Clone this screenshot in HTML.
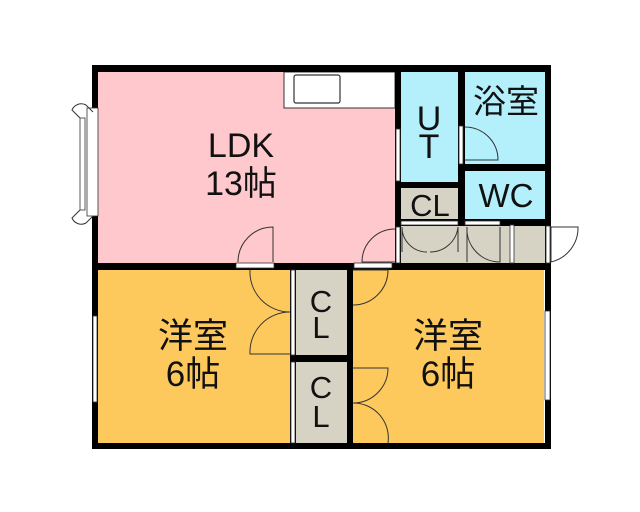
<!DOCTYPE html>
<html><head><meta charset="utf-8"><style>
html,body{margin:0;padding:0;background:#fff;}
svg{display:block}
text{font-family:"Liberation Sans","Noto Sans CJK JP",sans-serif;fill:#111;}
</style></head><body>
<svg width="640" height="512" viewBox="0 0 640 512" xmlns="http://www.w3.org/2000/svg">
<rect x="98" y="71" width="297" height="192" fill="#ffc8cc"/>
<rect x="284" y="72" width="111" height="36" fill="#fff" stroke="#333" stroke-width="1"/>
<rect x="294" y="75" width="46" height="28" fill="#fff" stroke="#333" stroke-width="1.2" rx="2"/>
<rect x="401" y="72" width="57" height="110" fill="#b3f0fb"/>
<rect x="465" y="72" width="80" height="92" fill="#b3f0fb"/>
<rect x="465" y="171" width="80" height="48" fill="#b3f0fb"/>
<rect x="401" y="188" width="57" height="31" fill="#d6d2c4"/>
<rect x="400" y="226" width="145" height="37" fill="#d6d2c4"/>
<rect x="98" y="270" width="192" height="173" fill="#fdc95c"/>
<rect x="353" y="270" width="191" height="173" fill="#fdc95c"/>
<rect x="296" y="270" width="51" height="85" fill="#d6d2c4"/>
<rect x="296" y="362" width="51" height="81" fill="#d6d2c4"/>
<g fill="#000">
<rect x="92" y="65" width="459" height="7"/>
<rect x="92" y="65" width="6" height="384"/>
<rect x="92" y="443" width="459" height="6"/>
<rect x="545" y="65" width="6" height="384"/>
<rect x="92" y="263" width="459" height="7"/>
<rect x="395" y="65" width="6" height="205"/>
<rect x="458" y="65" width="7" height="161"/>
<rect x="458" y="164" width="93" height="7"/>
<rect x="395" y="182" width="70" height="6"/>
<rect x="395" y="219" width="156" height="7"/>
<rect x="290" y="263" width="6" height="186"/>
<rect x="347" y="263" width="6" height="186"/>
<rect x="290" y="355" width="63" height="7"/>
</g>
<g fill="#fff" stroke="#333" stroke-width="0.8">
<rect x="87" y="108" width="11" height="108"/>
<rect x="80" y="118" width="5" height="92"/>
<rect x="236" y="263" width="38" height="5"/>
<rect x="354" y="263" width="38" height="5"/>
<rect x="396" y="129" width="4" height="52"/>
<rect x="459" y="126" width="4" height="38"/>
<rect x="401" y="221" width="57" height="4"/>
<rect x="465" y="221" width="35" height="4"/>
<rect x="396" y="227" width="4" height="36"/>
<rect x="510" y="225" width="4" height="38"/>
<rect x="546" y="226" width="4" height="37"/>
<rect x="291" y="270" width="4" height="85"/>
<rect x="291" y="362" width="4" height="81"/>
<rect x="93" y="316" width="4" height="86"/>
<rect x="545" y="311" width="5" height="89"/>
</g>
<g fill="none" stroke="#333" stroke-width="1">
<path d="M273 262 V227 A35 35 0 0 0 238 262"/>
<path d="M395 262 H362 A33 33 0 0 1 395 229"/>
<path d="M465 127 A33 33 0 0 1 498 160 H465"/>
<path d="M402 252 V227 A25 25 0 0 0 427 252 M458 252 V227 A28 28 0 0 1 430 252"/>
<path d="M467 262 V227 A33 33 0 0 0 500 262 V227"/>
<path d="M551 262 V227 H578 A35 35 0 0 1 551 262"/>
<path d="M250 270 A40 40 0 0 0 290 312 A40 40 0 0 0 250 354 H290"/>
<path d="M353 305 A35 35 0 0 0 388 270 H353"/>
<path d="M353 403 A35 35 0 0 0 388 368 H353 M353 403 A35 35 0 0 1 388 443"/>
<path d="M80 118 L72 110 A10 10 0 0 1 86 105 L93 112 M80 210 L72 218 A10 10 0 0 0 86 223 L93 216"/>
</g>
<text x="241" y="157" font-size="34" text-anchor="middle">LDK</text>
<text x="241" y="195" font-size="34" text-anchor="middle">13帖</text>
<text x="429" y="130" font-size="34" text-anchor="middle">U</text>
<text x="429" y="158" font-size="34" text-anchor="middle">T</text>
<text x="506" y="113" font-size="33" text-anchor="middle">浴室</text>
<text x="506" y="207" font-size="33" text-anchor="middle">WC</text>
<text x="430" y="216" font-size="31" text-anchor="middle">CL</text>
<text x="321" y="312" font-size="31" text-anchor="middle">C</text>
<text x="321" y="338" font-size="31" text-anchor="middle">L</text>
<text x="321" y="398" font-size="31" text-anchor="middle">C</text>
<text x="321" y="427" font-size="31" text-anchor="middle">L</text>
<text x="193" y="348" font-size="35" text-anchor="middle">洋室</text>
<text x="193" y="386" font-size="35" text-anchor="middle">6帖</text>
<text x="448" y="348" font-size="35" text-anchor="middle">洋室</text>
<text x="448" y="386" font-size="35" text-anchor="middle">6帖</text>
</svg>
</body></html>
